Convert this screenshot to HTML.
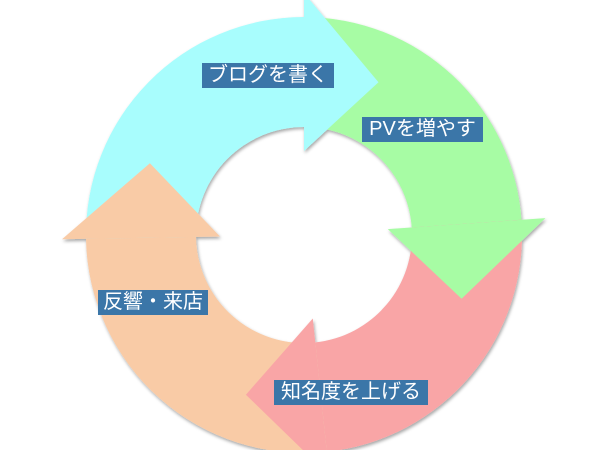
<!DOCTYPE html>
<html><head><meta charset="utf-8"><style>
html,body{margin:0;padding:0;background:#fff;width:600px;height:450px;overflow:hidden;position:relative}
svg{position:absolute;left:0;top:0;display:block}
.l{position:absolute;background:#3b76a8;color:#fff;font-family:"Liberation Sans","Noto Sans CJK JP",sans-serif;font-size:20px;line-height:25px;height:25px;text-align:center;white-space:nowrap;overflow:hidden}
</style></head><body>
<svg id="s" width="600" height="450" viewBox="0 0 600 450">
<defs><filter id="sh" x="-20%" y="-20%" width="140%" height="140%"><feDropShadow dx="1" dy="2" stdDeviation="1.5" flood-color="#000" flood-opacity="0.35"/></filter></defs>
<g id="g" filter="url(#sh)"></g>
</svg>
<div class="l" style="left:202px;top:63px;width:132px">ブログを書く</div>
<div class="l" style="left:362px;top:117px;width:121px">PVを増やす</div>
<div class="l" style="left:98px;top:290px;width:110px">反響・来店</div>
<div class="l" style="left:274px;top:380px;width:154px">知名度を上げる</div>
<script>
var cx=304,cy=235,R=218,r=108;
function p(rad,a){a=a*Math.PI/180;return (cx+rad*Math.cos(a)).toFixed(1)+","+(cy+rad*Math.sin(a)).toFixed(1);}
var bases=[-90,-4,84,179];var cols=["#a8fdfd","#a7fca4","#f9a5a6","#f9cba6"];
var prev=[-181,-90,-4,84];
var g=document.getElementById("g"),h="";
for(var i=0;i<4;i++){var a1=prev[i],a2=bases[i];
h+='<path fill="'+cols[i]+'" d="M'+p(R,a1)+' A'+R+' '+R+' 0 0 1 '+p(R,a2)+' L'+p(r,a2)+' A'+r+' '+r+' 0 0 0 '+p(r,a1)+' Z"/>';}
for(var i=0;i<4;i++){var a=bases[i];
h+='<polygon fill="'+cols[i]+'" points="'+p(84,a)+' '+p(242,a)+' '+p(170,a+26)+'"/>';}
g.innerHTML=h;
</script>
</body></html>
